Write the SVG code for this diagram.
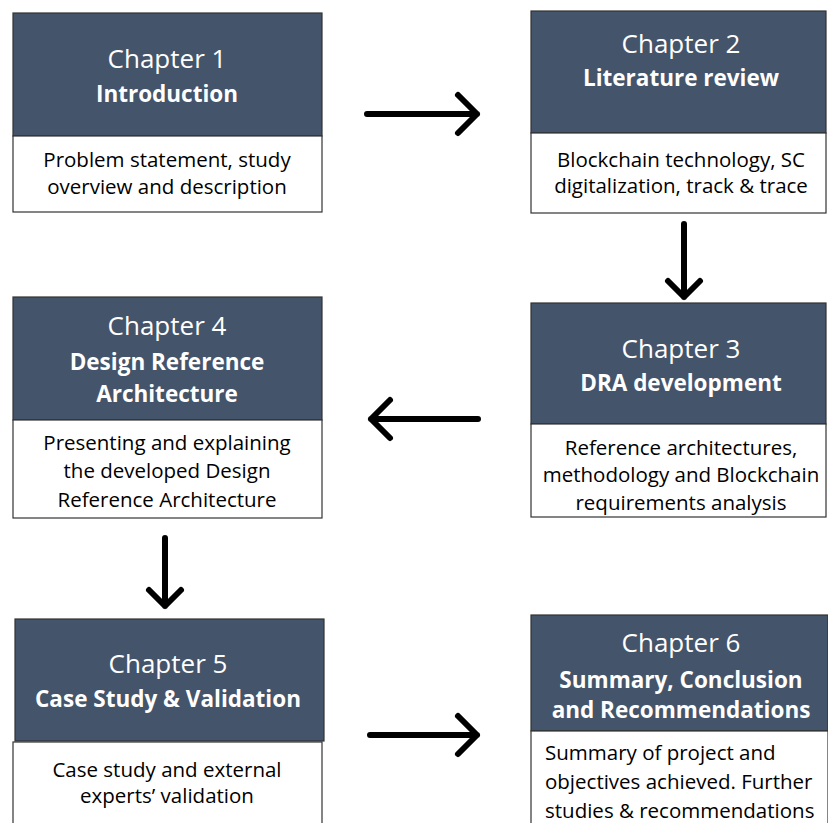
<svg xmlns="http://www.w3.org/2000/svg" width="828" height="823" viewBox="0 0 828 823">
  <style>
    .hd { fill: #44546A; stroke: #333; stroke-width: 1.2; }
    .bd { fill: #ffffff; stroke: #333; stroke-width: 1.2; }
    .ch { font-family: "Open Sans", "Noto Sans", sans-serif; font-size: 26px; fill: #ffffff; text-anchor: middle; }
    .ti { font-family: "Open Sans", "Noto Sans", sans-serif; font-size: 22.5px; font-weight: bold; fill: #ffffff; text-anchor: middle; }
    .tx { font-family: "Open Sans", "Noto Sans", sans-serif; font-size: 20.5px; fill: #000000; text-anchor: middle; }
    .txl { font-family: "Open Sans", "Noto Sans", sans-serif; font-size: 20.5px; fill: #000000; }
    .ar { fill: none; stroke: #000; stroke-width: 6; stroke-linecap: round; stroke-linejoin: round; }
  </style>
  <rect width="828" height="823" fill="#ffffff"/>

  <g id="chapter1">
    <rect class="hd" x="13" y="13" width="309" height="123"/>
    <rect class="bd" x="13" y="136" width="309" height="76"/>
    <text class="ch" x="167" y="68">Chapter 1</text>
    <text class="ti" x="167" y="102">Introduction</text>
    <text class="tx" x="167" y="167">Problem statement, study</text>
    <text class="tx" x="167" y="194">overview and description</text>
  </g>

  <g id="chapter2">
    <rect class="hd" x="531" y="11" width="295" height="122"/>
    <rect class="bd" x="531" y="133" width="295" height="80"/>
    <text class="ch" x="681" y="53">Chapter 2</text>
    <text class="ti" x="681" y="86">Literature review</text>
    <text class="tx" x="681" y="167">Blockchain technology, SC</text>
    <text class="tx" x="681" y="193">digitalization, track &amp; trace</text>
  </g>

  <g id="chapter3">
    <rect class="hd" x="531" y="303" width="295" height="121"/>
    <rect class="bd" x="531" y="424" width="295" height="93"/>
    <text class="ch" x="681" y="358">Chapter 3</text>
    <text class="ti" x="681" y="391">DRA development</text>
    <text class="tx" x="681" y="455">Reference architectures,</text>
    <text class="tx" x="681" y="482">methodology and Blockchain</text>
    <text class="tx" x="681" y="510">requirements analysis</text>
  </g>

  <g id="chapter4">
    <rect class="hd" x="13" y="297" width="309" height="123"/>
    <rect class="bd" x="13" y="420" width="309" height="98"/>
    <text class="ch" x="167" y="335">Chapter 4</text>
    <text class="ti" x="167" y="370">Design Reference</text>
    <text class="ti" x="167" y="402">Architecture</text>
    <text class="tx" x="167" y="450">Presenting and explaining</text>
    <text class="tx" x="167" y="478">the developed Design</text>
    <text class="tx" x="167" y="507">Reference Architecture</text>
  </g>

  <g id="chapter5">
    <rect class="hd" x="15" y="619" width="309" height="122"/>
    <rect class="bd" x="13" y="742" width="309" height="90"/>
    <text class="ch" x="168" y="673">Chapter 5</text>
    <text class="ti" x="168" y="707">Case Study &amp; Validation</text>
    <text class="tx" x="167" y="777">Case study and external</text>
    <text class="tx" x="167" y="803">experts’ validation</text>
  </g>

  <g id="chapter6">
    <rect class="hd" x="531" y="615" width="297" height="116"/>
    <rect class="bd" x="531" y="731" width="297" height="100"/>
    <text class="ch" x="681" y="652">Chapter 6</text>
    <text class="ti" x="681" y="688">Summary, Conclusion</text>
    <text class="ti" x="681" y="718">and Recommendations</text>
    <text class="txl" x="545" y="760">Summary of project and</text>
    <text class="txl" x="545" y="789">objectives achieved. Further</text>
    <text class="txl" x="545" y="818">studies &amp; recommendations</text>
  </g>

  <g id="connectors">
    <!-- chapter 1 to chapter 2 -->
    <path class="ar" d="M367 114 H477 M458 95 L477 114 L458 133"/>
    <!-- chapter 2 to chapter 3 -->
    <path class="ar" d="M684 224 V297 M668 281 L684 297 L700 281"/>
    <!-- chapter 3 to chapter 4 -->
    <path class="ar" d="M478 419 H371 M390 400 L371 419 L390 438"/>
    <!-- chapter 4 to chapter 5 -->
    <path class="ar" d="M165 538 V606 M149 590 L165 606 L181 590"/>
    <!-- chapter 5 to chapter 6 -->
    <path class="ar" d="M370 735 H477 M458 716 L477 735 L458 754"/>
  </g>
</svg>
